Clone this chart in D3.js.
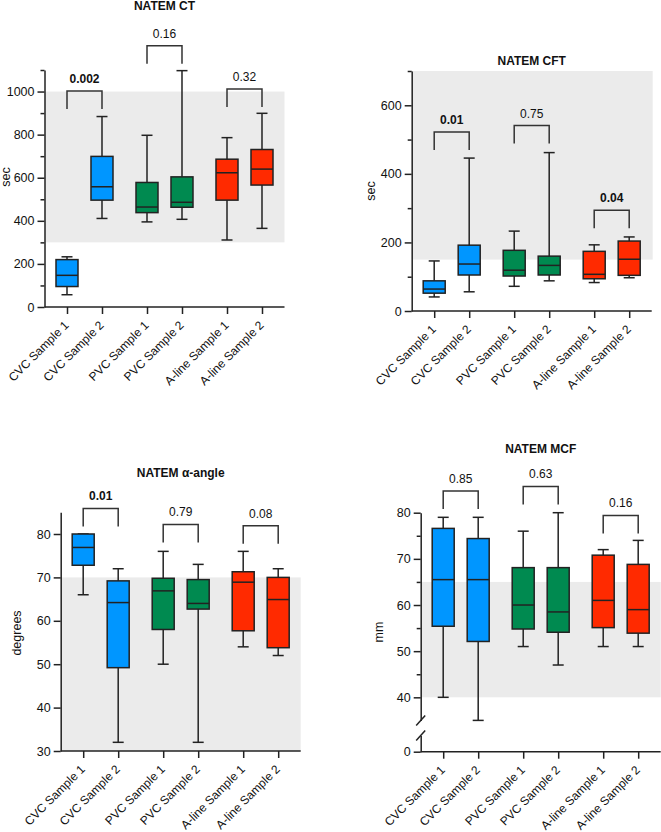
<!DOCTYPE html>
<html>
<head>
<meta charset="utf-8">
<script src="https://d3js.org/d3.v7.min.js"></script>
<style>
  body { margin: 0; background: #fff; }
  text { font-family: Arial, "Liberation Sans", sans-serif; fill: #111; }
</style>
</head>
<body>
<div id="chart"></div>
<script>
var groups = ['CVC', 'PVC', 'A-line'];
var samples = ['Sample 1', 'Sample 2'];
var categories = ['CVC Sample 1', 'CVC Sample 2', 'PVC Sample 1', 'PVC Sample 2', 'A-line Sample 1', 'A-line Sample 2'];
var groupColors = ['#0096ff', '#008a50', '#ff2a00'];

// box stats per category: [min, q1, median, q3, max]
var ctStats = [
  [57, 95, 147, 220, 233],
  [411, 496, 558, 699, 884],
  [395, 438, 464, 578, 797],
  [407, 463, 486, 604, 1097],
  [311, 496, 623, 686, 786],
  [365, 566, 640, 731, 899]
];
var ctPValues = ['0.002', '0.16', '0.32'];
var ctBold = [true, false, false];
var ctTicks = [0, 200, 400, 600, 800, 1000];
var ctMinor = [100, 300, 500, 700, 900, 1100];

var cftStats = [
  [41, 52, 64, 88, 146],
  [56, 105, 137, 192, 446],
  [72, 102, 119, 177, 233],
  [88, 105, 133, 160, 462],
  [83, 94, 107, 174, 193],
  [97, 104, 151, 204, 216]
];
var cftPValues = ['0.01', '0.75', '0.04'];
var cftBold = [true, false, true];
var cftTicks = [0, 200, 400, 600];
var cftMinor = [100, 300, 500, 700];

var alphaStats = [
  [66, 72.8, 76.9, 80, 80],
  [32, 49.2, 64.2, 69.2, 72],
  [50, 58, 66.9, 69.8, 76],
  [32, 62.7, 64, 69.5, 73],
  [54, 57.7, 68.9, 71.3, 76],
  [52, 53.8, 64.9, 70, 72]
];
var alphaPValues = ['0.01', '0.79', '0.08'];
var alphaBold = [true, false, false];
var alphaTicks = [30, 40, 50, 60, 70, 80];

var mcfStats = [
  [40, 55.4, 65.5, 76.6, 79],
  [35, 52.1, 65.5, 74.4, 79],
  [51, 54.8, 60, 68.1, 76],
  [47, 54.1, 58.5, 68.1, 80],
  [51, 55.1, 61, 70.8, 72],
  [51, 53.9, 59, 68.8, 74]
];
var mcfPValues = ['0.85', '0.63', '0.16'];
var mcfBold = [false, false, false];
var mcfTicks = [40, 50, 60, 70, 80];
var mcfMinor = [45, 55, 65, 75];

var svg = d3.select('#chart').append('svg')
  .attr('width', 661)
  .attr('height', 832);

function drawPanel(p) {
  var g = svg.append('g');
  var y = d3.scaleLinear().domain(p.domain).range(p.range);

  var groupX = d3.scaleBand().domain(groups).range([p.x0, p.x0 + 240]);
  var sampleX = d3.scalePoint().domain(samples).range([0, groupX.bandwidth()]).padding(0.643);
  function xPos(i) {
    return groupX(groups[Math.floor(i / 2)]) + sampleX(samples[i % 2]);
  }
  var catX = d3.scaleOrdinal().domain(categories).range(categories.map(function(d, i) { return xPos(i); }));

  // normal range band
  g.append('rect')
    .attr('x', p.x0)
    .attr('width', p.bandRight - p.x0)
    .attr('y', y(p.band[1]))
    .attr('height', y(p.band[0]) - y(p.band[1]))
    .attr('fill', '#ebebeb');

  // boxes
  var box = g.selectAll('.box').data(p.stats).enter().append('g');
  box.append('line')
    .attr('x1', function(d, i) { return xPos(i); })
    .attr('x2', function(d, i) { return xPos(i); })
    .attr('y1', function(d) { return y(d[0]); })
    .attr('y2', function(d) { return y(d[4]); })
    .attr('stroke', '#222').attr('stroke-width', 1.5);
  [0, 4].forEach(function(k) {
    box.append('line')
      .attr('x1', function(d, i) { return xPos(i) - 5.5; })
      .attr('x2', function(d, i) { return xPos(i) + 5.5; })
      .attr('y1', function(d) { return y(d[k]); })
      .attr('y2', function(d) { return y(d[k]); })
      .attr('stroke', '#222').attr('stroke-width', 1.5);
  });
  box.append('rect')
    .attr('x', function(d, i) { return xPos(i) - 11; })
    .attr('width', 22)
    .attr('y', function(d) { return y(d[3]); })
    .attr('height', function(d) { return y(d[1]) - y(d[3]); })
    .attr('fill', function(d, i) { return groupColors[Math.floor(i / 2)]; })
    .attr('stroke', '#222').attr('stroke-width', 1.5);
  box.append('line')
    .attr('x1', function(d, i) { return xPos(i) - 11; })
    .attr('x2', function(d, i) { return xPos(i) + 11; })
    .attr('y1', function(d) { return y(d[2]); })
    .attr('y2', function(d) { return y(d[2]); })
    .attr('stroke', '#222').attr('stroke-width', 1.5);

  // y axis
  var yAxis = g.append('g')
    .attr('transform', 'translate(' + p.x0 + ',0)')
    .call(d3.axisLeft(y).tickValues(p.ticks).tickSize(7).tickSizeOuter(0).tickPadding(3).tickFormat(d3.format('d')));
  if (p.minor) {
    g.append('g')
      .attr('transform', 'translate(' + p.x0 + ',0)')
      .call(d3.axisLeft(y).tickValues(p.minor).tickSize(4).tickSizeOuter(0).tickFormat(''))
      .call(styleAxis)
      .select('.domain').remove();
  }
  if (p.lowerRange) {
    // broken axis: lower segment with 0
    var yLow = d3.scaleLinear().domain(p.lowerDomain).range(p.lowerRange);
    g.append('g')
      .attr('transform', 'translate(' + p.x0 + ',0)')
      .call(d3.axisLeft(yLow).tickValues([0]).tickSize(7).tickSizeOuter(0).tickPadding(3).tickFormat(d3.format('d')))
      .call(styleAxis);
    [p.range[0], p.lowerRange[1]].forEach(function(yy) {
      g.append('line')
        .attr('x1', p.x0 - 4.5).attr('x2', p.x0 + 4.5)
        .attr('y1', yy + 5).attr('y2', yy - 5)
        .attr('stroke', '#222').attr('stroke-width', 1.5);
    });
  }
  yAxis.call(styleAxis);

  // x axis
  var xAxisY = p.lowerRange ? p.lowerRange[0] : p.range[0];
  var xAxis = g.append('g')
    .attr('transform', 'translate(0,' + xAxisY + ')')
    .call(d3.axisBottom(catX).tickSize(7).tickSizeOuter(0));
  xAxis.select('.domain').remove();
  xAxis.append('line')
    .attr('x1', p.x0).attr('x2', p.x0 + 240)
    .attr('stroke', '#222').attr('stroke-width', 1.5);
  xAxis.call(styleAxis);
  xAxis.selectAll('.tick text')
    .attr('x', 0).attr('y', 0).attr('dy', 0)
    .attr('font-size', '12px')
    .attr('text-anchor', 'end')
    .attr('transform', 'translate(2,19) rotate(-45)');

  // brackets
  groups.forEach(function(gr, k) {
    var xa = xPos(k * 2), xb = xPos(k * 2 + 1);
    var yb = y(p.brackets[k]);
    g.append('path')
      .attr('d', 'M' + xa + ',' + (yb + 18) + 'V' + yb + 'H' + xb + 'V' + (yb + 18))
      .attr('fill', 'none').attr('stroke', '#333').attr('stroke-width', 1.5);
    g.append('text')
      .attr('x', (xa + xb) / 2)
      .attr('y', yb - 8)
      .attr('text-anchor', 'middle')
      .attr('font-size', '12px')
      .attr('font-weight', p.bold[k] ? 'bold' : 'normal')
      .text(p.pValues[k]);
  });

  // title and y label
  g.append('text')
    .attr('x', p.x0 + 120)
    .attr('y', p.titleY)
    .attr('text-anchor', 'middle')
    .attr('font-size', '12px')
    .attr('font-weight', 'bold')
    .text(p.title);
  g.append('text')
    .attr('transform', 'translate(' + p.labelPos[0] + ',' + p.labelPos[1] + ') rotate(-90)')
    .attr('text-anchor', 'middle')
    .attr('font-size', '12.5px')
    .text(p.yLabel);
}

function styleAxis(sel) {
  sel.attr('font-size', '12.5px').attr('font-family', 'Arial, "Liberation Sans", sans-serif');
  sel.selectAll('path, line').attr('stroke', '#222').attr('stroke-width', 1.5);
  sel.selectAll('text').attr('fill', '#111');
}

drawPanel({
  title: 'NATEM CT', titleY: 9.5, yLabel: 'sec', labelPos: [10, 177],
  x0: 44.5, domain: [0, 1100], range: [307, 70],
  band: [300, 1000], bandRight: 284.5,
  stats: ctStats, ticks: ctTicks, minor: ctMinor,
  brackets: [1003, 1213, 1012], pValues: ctPValues, bold: ctBold
});

drawPanel({
  title: 'NATEM CFT', titleY: 64.5, yLabel: 'sec', labelPos: [375, 191],
  x0: 411.7, domain: [0, 700], range: [311, 71],
  band: [150, 700], bandRight: 652.7,
  stats: cftStats, ticks: cftTicks, minor: cftMinor,
  brackets: [522, 541, 294], pValues: cftPValues, bold: cftBold
});

drawPanel({
  title: 'NATEM \u03b1-angle', titleY: 477, yLabel: 'degrees', labelPos: [21, 633],
  x0: 60.7, domain: [30, 85], range: [751, 512.3],
  band: [30, 70], bandRight: 300.7,
  stats: alphaStats, ticks: alphaTicks, minor: null,
  brackets: [85.9, 82.2, 81.9], pValues: alphaPValues, bold: alphaBold
});

drawPanel({
  title: 'NATEM MCF', titleY: 453, yLabel: 'mm', labelPos: [382.5, 632],
  x0: 420.7, domain: [35, 80], range: [720.4, 512.7],
  lowerDomain: [0, 3.5], lowerRange: [751.7, 735.5],
  band: [40, 65], bandRight: 660.7,
  stats: mcfStats, ticks: mcfTicks, minor: mcfMinor,
  brackets: [84.7, 85.7, 79.4], pValues: mcfPValues, bold: mcfBold
});
</script>
</body>
</html>
